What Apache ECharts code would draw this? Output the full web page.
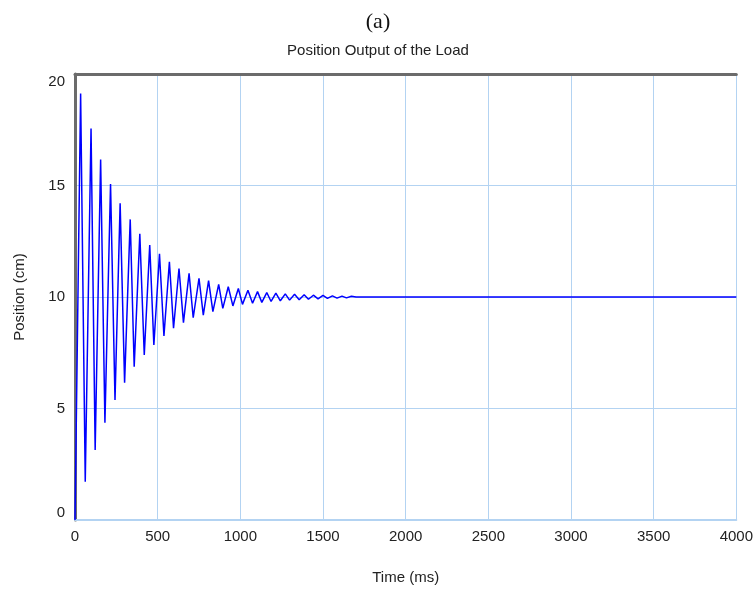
<!DOCTYPE html>
<html>
<head>
<meta charset="utf-8">
<script src="https://cdn.jsdelivr.net/npm/echarts@6/dist/echarts.min.js"></script>
<style>
  html, body { margin: 0; padding: 0; background: #fff; }
  #chart { width: 756px; height: 591px; }
</style>
</head>
<body>
<div id="chart"></div>
<script>
// turning points of the load position trace
const timeMs = [
  0, 6, 34, 62, 97, 122, 155, 181, 215, 242, 273, 300, 334, 358, 392, 419,
  452, 477, 511, 538, 571, 596, 629, 656, 690, 715, 750, 776, 808, 834, 869,
  894, 927, 955, 988, 1013, 1046, 1074, 1104, 1130, 1160, 1186, 1215, 1242,
  1272, 1298, 1328, 1356, 1386, 1412, 1442, 1470, 1500, 1527, 1557, 1585,
  1615, 1642, 1672, 1700, 4000
]
const positionCm = [
  0, 0, 19.13, 1.72, 17.56, 3.14, 16.17, 4.36, 15.07, 5.38, 14.2, 6.16, 13.48, 6.87, 12.83, 7.4,
  12.33, 7.85, 11.94, 8.25, 11.58, 8.6, 11.28, 8.85, 11.06, 9.07, 10.84, 9.19, 10.73, 9.34, 10.57,
  9.49, 10.46, 9.6, 10.38, 9.67, 10.3, 9.72, 10.24, 9.76, 10.2, 9.8, 10.17, 9.83,
  10.14, 9.86, 10.12, 9.88, 10.1, 9.9, 10.08, 9.92, 10.07, 9.94, 10.05, 9.95,
  10.04, 9.96, 10.03, 10, 10
]
const xTicks = [0, 500, 1000, 1500, 2000, 2500, 3000, 3500, 4000]
const yTicks = [0, 5, 10, 15, 20]

const gridBlue = '#b3d3f2'
const textColor = '#222'
const sans = '"Liberation Sans", Arial, sans-serif'

const chart = echarts.init(document.getElementById('chart'), null, { renderer: 'canvas' })

chart.setOption({
  animation: false,
  backgroundColor: '#fff',
  title: [
    {
      text: '(a)',
      left: 'center',
      top: 6,
      textStyle: { fontFamily: '"Liberation Serif", serif', fontSize: 22, fontWeight: 'normal', color: '#111' }
    },
    {
      text: 'Position Output of the Load',
      left: 'center',
      top: 38,
      textStyle: { fontFamily: sans, fontSize: 15, fontWeight: 'normal', color: textColor }
    }
  ],
  grid: { left: 75, right: 17, top: 74, bottom: 71 },
  xAxis: [
    {
      type: 'value',
      min: xTicks[0],
      max: xTicks[xTicks.length - 1],
      interval: xTicks[1] - xTicks[0],
      name: 'Time (ms)',
      nameLocation: 'middle',
      nameGap: 50,
      nameTextStyle: { fontFamily: sans, fontSize: 15, color: textColor },
      axisLine: { show: true, lineStyle: { color: gridBlue, width: 2 } },
      axisTick: { show: false },
      axisLabel: { fontFamily: sans, fontSize: 15, color: textColor, margin: 9, formatter: v => String(v) },
      splitLine: { show: true, lineStyle: { color: gridBlue, width: 1 } }
    },
    {
      type: 'value',
      position: 'top',
      min: xTicks[0],
      max: xTicks[xTicks.length - 1],
      axisLine: { show: true, onZero: false, lineStyle: { color: '#6b6b6b', width: 3 } },
      axisTick: { show: false },
      axisLabel: { show: false },
      splitLine: { show: false }
    }
  ],
  yAxis: {
    type: 'value',
    min: yTicks[0],
    max: yTicks[yTicks.length - 1],
    interval: yTicks[1] - yTicks[0],
    name: 'Position (cm)',
    nameLocation: 'middle',
    nameGap: 48,
    nameTextStyle: { fontFamily: sans, fontSize: 15, color: textColor },
    axisLine: { show: true, lineStyle: { color: '#6b6b6b', width: 3 } },
    axisTick: { show: false },
    axisLabel: {
      fontFamily: sans, fontSize: 15, color: textColor, margin: 10,
      verticalAlignMaxLabel: 'top', verticalAlignMinLabel: 'bottom'
    },
    splitLine: { show: true, lineStyle: { color: gridBlue, width: 1 } }
  },
  series: [
    {
      type: 'line',
      xAxisIndex: 0,
      data: timeMs.map((t, i) => [t, positionCm[i]]),
      showSymbol: false,
      lineStyle: { color: '#0000ff', width: 1.5 },
      clip: true
    }
  ]
})
</script>
</body>
</html>
